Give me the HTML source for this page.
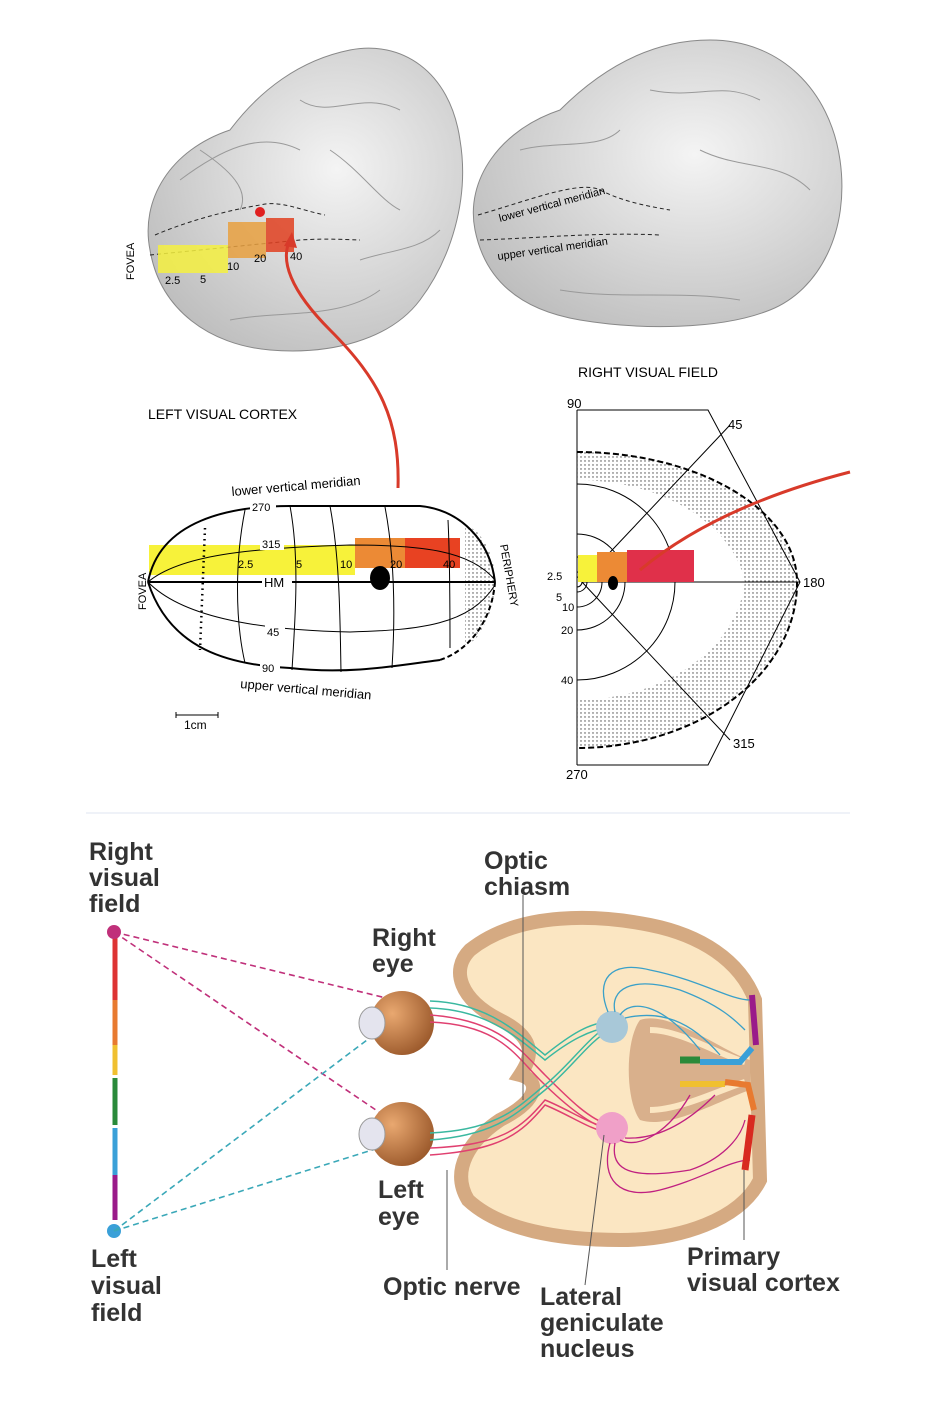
<!DOCTYPE html>
<html><head><meta charset="utf-8"><style>
html,body{margin:0;padding:0;background:#fff}
svg text{font-family:"Liberation Sans",sans-serif}
</style></head><body>
<svg width="930" height="1396" viewBox="0 0 930 1396" xmlns="http://www.w3.org/2000/svg">
<defs>
<pattern id="dots" width="4" height="4" patternUnits="userSpaceOnUse"><circle cx="1" cy="1" r="0.7" fill="#444"/></pattern>
<radialGradient id="brainG" cx="0.6" cy="0.4" r="0.7"><stop offset="0" stop-color="#f4f4f4"/><stop offset="1" stop-color="#bdbdbd"/></radialGradient>
<radialGradient id="eyeG" cx="0.35" cy="0.35" r="0.7"><stop offset="0" stop-color="#e9a870"/><stop offset="1" stop-color="#9c5a2c"/></radialGradient>
</defs>
<rect width="930" height="1396" fill="#fff"/>
<!-- top left brain -->
<path d="M150,250 C140,200 170,150 230,130 C260,90 300,60 350,50 C400,40 450,70 460,140 C470,200 450,260 420,300 C390,340 330,355 270,350 C210,345 160,310 150,250Z" fill="url(#brainG)" stroke="#888"/>
<path d="M180,180 C220,150 260,130 300,150 M300,100 C330,120 360,90 400,110 M230,320 C280,310 340,320 380,290 M200,150 C230,170 250,190 240,210 M330,150 C360,170 380,200 400,210 M360,260 C390,250 420,250 440,230" stroke="#999" fill="none"/>
<path d="M155,235 C190,220 230,210 260,205 C280,200 300,210 325,215 M150,255 C200,250 250,245 300,240 C330,238 350,240 360,240" stroke="#222" stroke-dasharray="4,3" fill="none"/>
<rect x="158" y="245" width="70" height="28" fill="#f4f040" opacity="0.85"/>
<rect x="228" y="222" width="38" height="36" fill="#e8a040" opacity="0.85"/>
<rect x="266" y="218" width="28" height="34" fill="#e04020" opacity="0.85"/>
<circle cx="260" cy="212" r="5" fill="#e02020"/>
<text x="134" y="280" font-size="11" transform="rotate(-90 134 280)">FOVEA</text>
<text x="165" y="284" font-size="11">2.5</text><text x="200" y="283" font-size="11">5</text><text x="227" y="270" font-size="11">10</text><text x="254" y="262" font-size="11">20</text><text x="290" y="260" font-size="11">40</text>
<!-- top right brain -->
<path d="M475,230 C465,180 500,130 560,110 C600,70 650,40 710,40 C780,40 830,90 840,160 C850,230 820,290 770,310 C720,330 640,330 580,320 C520,310 485,280 475,230Z" fill="url(#brainG)" stroke="#888"/>
<path d="M520,150 C560,140 600,150 620,130 M650,90 C700,100 720,80 760,100 M700,150 C740,170 780,160 810,190 M560,290 C620,300 680,290 740,300" stroke="#999" fill="none"/>
<path d="M478,215 C530,200 580,180 600,190 C620,200 640,205 670,210 M480,240 C540,238 600,232 660,235" stroke="#222" stroke-dasharray="4,3" fill="none"/>
<text x="500" y="222" font-size="11" transform="rotate(-15 500 222)">lower vertical meridian</text>
<text x="498" y="260" font-size="11" transform="rotate(-8 498 260)">upper vertical meridian</text>
<!-- red arrow curve -->
<path d="M398,488 C400,420 380,380 330,330 C290,290 280,260 290,240" stroke="#d83a2a" stroke-width="3" fill="none"/>
<path d="M284,246 L292,232 L297,248Z" fill="#d83a2a"/>
<text x="148" y="419" font-size="14">LEFT VISUAL CORTEX</text>
<text x="578" y="377" font-size="14">RIGHT VISUAL FIELD</text>
<!-- ellipse map -->
<rect x="149" y="545" width="206" height="30" fill="#f7f23a"/>
<rect x="355" y="538" width="50" height="30" fill="#ec8a35"/>
<rect x="405" y="538" width="55" height="30" fill="#e84222"/>
<path d="M475,530 C490,545 495,565 495,582 C495,600 490,620 475,640 L465,645 L465,525Z" fill="url(#dots)"/>
<path d="M148,582 C160,520 230,506 290,506 L420,506 C460,510 490,540 495,582" fill="none" stroke="#000" stroke-width="2"/>
<path d="M495,582 C492,620 470,650 440,660" fill="none" stroke="#000" stroke-width="2" stroke-dasharray="5,3"/>
<path d="M148,582 C170,650 230,665 290,668 C350,675 400,665 440,660" fill="none" stroke="#000" stroke-width="2"/>
<path d="M148,582 L495,582" stroke="#000" stroke-width="2"/>
<path d="M148,582 C180,555 250,548 350,545 C420,545 470,550 495,580" stroke="#000" fill="none"/>
<path d="M148,582 C180,615 250,630 350,632 C420,630 470,625 495,585" stroke="#000" fill="none"/>
<path d="M205,528 L200,650" stroke="#000" stroke-width="2.5" stroke-dasharray="1.5,4"/>
<path d="M245,510 C235,560 235,620 245,663 M290,506 C300,560 295,620 292,670 M330,506 C340,560 340,620 341,672 M385,507 C395,560 395,620 392,668 M448,520 C450,560 450,620 450,648" stroke="#000" fill="none"/>
<ellipse cx="380" cy="578" rx="10" ry="12" fill="#000"/>
<g font-size="11"><rect x="250" y="500" width="26" height="12" fill="#fff"/><text x="252" y="511">270</text>
<rect x="260" y="538" width="24" height="12" fill="#fff"/><text x="262" y="548">315</text>
<text x="238" y="568">2.5</text><text x="296" y="568">5</text><text x="340" y="568">10</text><text x="390" y="568">20</text><text x="443" y="568">40</text>
<rect x="262" y="575" width="30" height="14" fill="#fff"/><text x="264" y="587" font-size="13">HM</text>
<rect x="265" y="625" width="20" height="12" fill="#fff"/><text x="267" y="636">45</text>
<rect x="260" y="661" width="20" height="12" fill="#fff"/><text x="262" y="672">90</text></g>
<text x="232" y="496" font-size="13" transform="rotate(-5 232 496)">lower vertical meridian</text>
<text x="240" y="688" font-size="13" transform="rotate(5 240 688)">upper vertical meridian</text>
<text x="146" y="610" font-size="11" transform="rotate(-90 146 610)">FOVEA</text>
<text x="500" y="545" font-size="11" transform="rotate(80 500 545)">PERIPHERY</text>
<path d="M176,715 L218,715 M176,712 L176,718 M218,712 L218,718" stroke="#000"/>
<text x="184" y="729" font-size="12">1cm</text>
<!-- right visual field -->
<path d="M577,452 A220,130 0 0 1 797,582 A220,165 0 0 1 577,748 L577,700 A170,130 0 0 0 745,582 A170,120 0 0 0 577,480Z" fill="url(#dots)"/>
<path d="M577,410 L577,765 M577,410 L708,410 L800,582 L708,765 L577,765" stroke="#000" fill="none"/>
<path d="M577,452 A220,130 0 0 1 797,582 A220,165 0 0 1 577,748" stroke="#000" stroke-width="2" stroke-dasharray="6,3" fill="none"/>
<path d="M582,582 L730,425 M582,582 L730,740 M582,582 L800,582" stroke="#000"/>
<g fill="none" stroke="#000">
<path d="M577,577 A5,5 0 0 1 577,587"/><path d="M577,572 A10,10 0 0 1 577,592"/><path d="M577,557 A25,25 0 0 1 577,607"/><path d="M577,534 A48,48 0 0 1 577,630"/><path d="M577,484 A98,98 0 0 1 577,680"/></g>
<rect x="597" y="552" width="30" height="30" fill="#ec8a35"/><rect x="627" y="550" width="67" height="32" fill="#e0304a"/><rect x="578" y="555" width="19" height="27" fill="#f7f23a"/>
<ellipse cx="613" cy="583" rx="5" ry="7" fill="#000"/>
<path d="M640,570 C700,520 780,490 850,472" stroke="#d83a2a" stroke-width="3" fill="none"/>
<g font-size="13"><text x="567" y="408">90</text><text x="728" y="429">45</text><text x="803" y="587">180</text><text x="733" y="748">315</text><text x="566" y="779">270</text>
<text x="547" y="580" font-size="11">2.5</text><text x="556" y="601" font-size="11">5</text><text x="562" y="611" font-size="11">10</text><text x="561" y="634" font-size="11">20</text><text x="561" y="684" font-size="11">40</text></g>
<line x1="86" y1="813" x2="850" y2="813" stroke="#dfe6f0"/>
<!-- bottom -->
<g font-size="25" font-weight="bold" fill="#333">
<text x="89" y="860">Right</text><text x="89" y="886">visual</text><text x="89" y="912">field</text>
<text x="484" y="869">Optic</text><text x="484" y="895">chiasm</text>
<text x="372" y="946">Right</text><text x="372" y="972">eye</text>
<text x="378" y="1198">Left</text><text x="378" y="1225">eye</text>
<text x="91" y="1267">Left</text><text x="91" y="1294">visual</text><text x="91" y="1321">field</text>
<text x="383" y="1295">Optic nerve</text>
<text x="540" y="1305">Lateral</text><text x="540" y="1331">geniculate</text><text x="540" y="1357">nucleus</text>
<text x="687" y="1265">Primary</text><text x="687" y="1291">visual cortex</text></g>
<!-- field bar -->
<path d="M115,933 L115,1000" stroke="#d33" stroke-width="5"/><path d="M115,1000 L115,1045" stroke="#e87a30" stroke-width="5"/><path d="M115,1045 L115,1075" stroke="#f0c030" stroke-width="5"/><path d="M115,1078 L115,1125" stroke="#2a8a3a" stroke-width="5"/><path d="M115,1128 L115,1175" stroke="#3aa0d8" stroke-width="5"/><path d="M115,1175 L115,1220" stroke="#9a1a8a" stroke-width="5"/>
<circle cx="114" cy="932" r="7" fill="#c0307a"/><circle cx="114" cy="1231" r="7" fill="#3aa0d8"/>
<g stroke-width="1.6" stroke-dasharray="6,4" fill="none">
<path d="M114,932 L415,1005 M114,932 L420,1140" stroke="#c0307a"/>
<path d="M114,1231 L420,1000 M114,1231 L420,1135" stroke="#3aa8b8"/></g>
<!-- brain -->
<path d="M470,950 C520,910 600,915 650,925 C700,935 740,960 755,1000 L760,1180 C740,1220 680,1240 620,1240 C560,1240 500,1230 468,1200 C450,1170 470,1140 500,1120 C540,1100 540,1080 520,1075 C530,1060 540,1040 500,1020 C460,1000 450,970 470,950Z" fill="#fbe6c2" stroke="#d5aa82" stroke-width="14"/>
<path d="M640,1020 C670,1010 720,1050 750,1060 L750,1090 C720,1100 670,1130 640,1120 C625,1100 625,1040 640,1020Z" fill="#d9b08c"/>
<path d="M650,1030 C680,1030 720,1055 745,1062 M650,1110 C680,1110 720,1090 745,1082" stroke="#fbe6c2" stroke-width="6" fill="none"/>
<!-- eyes -->
<circle cx="402" cy="1023" r="32" fill="url(#eyeG)"/><ellipse cx="372" cy="1023" rx="13" ry="16" fill="#e4e4ee" stroke="#999"/>
<circle cx="402" cy="1134" r="32" fill="url(#eyeG)"/><ellipse cx="372" cy="1134" rx="13" ry="16" fill="#e4e4ee" stroke="#999"/>
<!-- nerves -->
<g fill="none" stroke-width="1.5">
<path d="M430,1015 C500,1020 520,1050 545,1075 C570,1100 590,1120 610,1125" stroke="#e04070"/>
<path d="M430,1022 C500,1025 515,1055 540,1080 C565,1105 590,1125 610,1130" stroke="#e04070"/>
<path d="M430,1008 C490,1010 520,1040 545,1060 C570,1040 590,1030 610,1027" stroke="#3ab8a0"/>
<path d="M430,1001 C490,1003 520,1035 545,1055 C570,1035 590,1022 610,1022" stroke="#3ab8a0"/>
<path d="M430,1140 C500,1135 520,1110 545,1090 C570,1070 590,1040 610,1030" stroke="#3ab8a0"/>
<path d="M430,1133 C500,1130 520,1105 545,1085 C570,1065 590,1035 610,1025" stroke="#3ab8a0"/>
<path d="M430,1148 C500,1145 520,1130 545,1100 C570,1110 590,1125 610,1128" stroke="#e04070"/>
<path d="M430,1155 C500,1150 520,1135 545,1105 C570,1115 590,1130 610,1133" stroke="#e04070"/></g>
<circle cx="612" cy="1027" r="16" fill="#a8c8d8"/><circle cx="612" cy="1128" r="16" fill="#f0a0c8"/>
<g fill="none" stroke="#3aa0c8" stroke-width="1.3">
<path d="M608,1012 C595,980 610,960 650,970 C700,980 730,1000 750,1000"/><path d="M615,1012 C610,990 630,975 680,990 C720,1005 735,1020 745,1030"/><path d="M620,1015 C630,1000 660,1000 700,1050"/><path d="M625,1018 C660,1010 690,1020 720,1055"/></g>
<g fill="none" stroke="#c02080" stroke-width="1.3">
<path d="M610,1143 C600,1180 620,1200 660,1190 C700,1180 730,1160 750,1160"/><path d="M615,1143 C610,1170 630,1180 690,1170 C720,1160 740,1140 745,1120"/><path d="M620,1140 C640,1150 670,1130 690,1095"/><path d="M625,1138 C660,1140 690,1120 715,1095"/></g>
<path d="M752,995 L756,1045" stroke="#9a1a8a" stroke-width="6"/><path d="M752,1048 L740,1062 L700,1062" stroke="#3aa0d8" stroke-width="6" fill="none"/>
<path d="M700,1060 L680,1060" stroke="#2a8a3a" stroke-width="7"/><path d="M680,1084 L725,1084" stroke="#f0c030" stroke-width="6"/>
<path d="M725,1082 L748,1085 L754,1110" stroke="#e87a30" stroke-width="6" fill="none"/><path d="M752,1115 L745,1170" stroke="#d82a20" stroke-width="7"/>
<g stroke="#555"><line x1="523" y1="895" x2="523" y2="1100"/><line x1="447" y1="1170" x2="447" y2="1270"/><line x1="604" y1="1135" x2="585" y2="1285"/><line x1="744" y1="1170" x2="744" y2="1240"/></g>
</svg>
</body></html>
